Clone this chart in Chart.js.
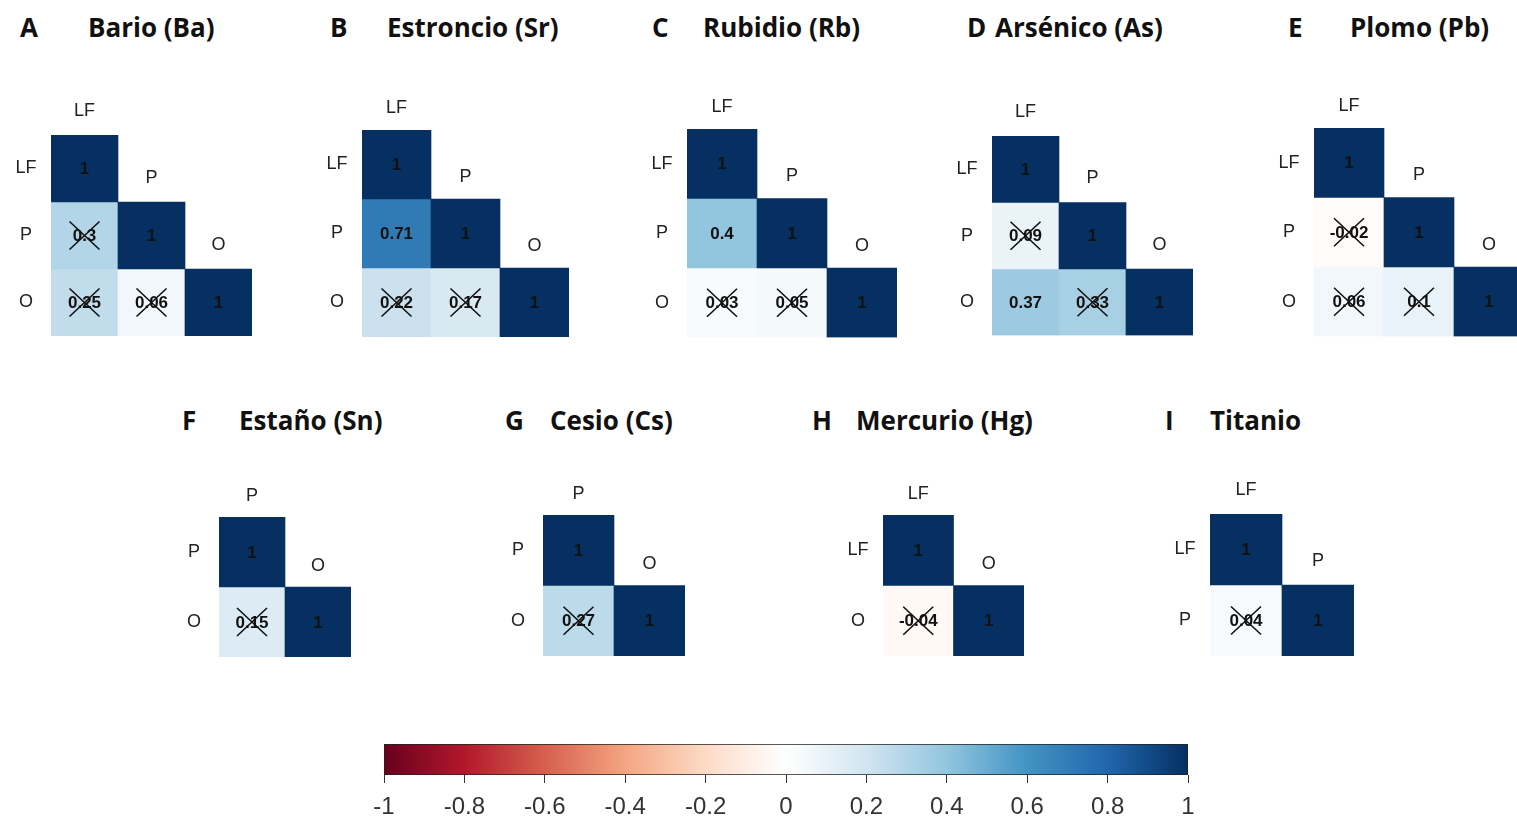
<!DOCTYPE html>
<html>
<head>
<meta charset="utf-8">
<script src="https://cdn.jsdelivr.net/npm/chart.js@4.4.0/dist/chart.umd.min.js"></script>
<style>
  html, body { margin: 0; padding: 0; background: #fff; }
  body { position: relative; width: 1517px; height: 819px; overflow: hidden; font-family: 'Open Sans', 'Liberation Sans', sans-serif; }
  canvas { position: absolute; }
  .title { position: absolute; font-weight: 700; font-size: 26px; color: #111; line-height: 1; white-space: nowrap; transform: translateY(-52%); }
</style>
</head>
<body>
<script>
// ---- data ----
const panelLetters = ['A', 'B', 'C', 'D', 'E', 'F', 'G', 'H', 'I'];
const panelTitles = ['Bario (Ba)', 'Estroncio (Sr)', 'Rubidio (Rb)', 'Arsénico (As)', 'Plomo (Pb)',
                     'Estaño (Sn)', 'Cesio (Cs)', 'Mercurio (Hg)', 'Titanio'];
const panelVars = [
  ['LF', 'P', 'O'], ['LF', 'P', 'O'], ['LF', 'P', 'O'], ['LF', 'P', 'O'], ['LF', 'P', 'O'],
  ['P', 'O'], ['P', 'O'], ['LF', 'O'], ['LF', 'P']
];
// lower triangle, row by row: (row2,col1), (row3,col1), (row3,col2)
const panelCorr = [
  [0.3, 0.25, 0.06], [0.71, 0.22, 0.17], [0.4, 0.03, 0.05], [0.09, 0.37, 0.33], [-0.02, 0.06, 0.1],
  [0.15], [0.27], [-0.04], [0.04]
];
// false = not significant (crossed out)
const panelSignif = [
  [false, false, false], [true, false, false], [true, false, false], [false, true, false], [false, false, false],
  [false], [false], [false], [false]
];
const scaleTicks = [-1, -0.8, -0.6, -0.4, -0.2, 0, 0.2, 0.4, 0.6, 0.8, 1];

// ---- layout (cell grid origin and cell size per panel, title positions) ----
const panelBox = [
  { x: 51, y: 135, w: 67, h: 67, lx: 20, tx: 88, ty: 28, off: 24 },
  { x: 362, y: 130, w: 69, h: 69, lx: 330, tx: 387, ty: 28, off: 22 },
  { x: 687, y: 129, w: 70, h: 69.5, lx: 652, tx: 703, ty: 28, off: 22 },
  { x: 992, y: 136, w: 67, h: 66.5, lx: 967, tx: 995, ty: 28, off: 24 },
  { x: 1314, y: 128, w: 70, h: 69.5, lx: 1288, tx: 1350, ty: 28, off: 22 },
  { x: 219, y: 517, w: 66, h: 70, lx: 182, tx: 239, ty: 421, off: 21 },
  { x: 543, y: 515, w: 71, h: 70.5, lx: 505, tx: 550, ty: 421, off: 21 },
  { x: 883, y: 515, w: 70.5, h: 70.5, lx: 812, tx: 856, ty: 421, off: 21 },
  { x: 1210, y: 514, w: 72, h: 71, lx: 1165, tx: 1210, ty: 421, off: 24 }
];

const rdbu = ['#67001F', '#B2182B', '#D6604D', '#F4A582', '#FDDBC7', '#FFFFFF',
              '#D1E5F0', '#92C5DE', '#4393C3', '#2166AC', '#053061'];

function hex(c) { return [1, 3, 5].map(i => parseInt(c.slice(i, i + 2), 16)); }
function corrColor(v) {
  const t = (v + 1) / 2 * (rdbu.length - 1);
  const i = Math.min(rdbu.length - 2, Math.floor(t));
  const f = t - i;
  const a = hex(rdbu[i]), b = hex(rdbu[i + 1]);
  const m = a.map((x, k) => Math.round(x + (b[k] - x) * f));
  return `rgb(${m[0]},${m[1]},${m[2]})`;
}

const labelFont = "18px 'Liberation Sans', Arial, sans-serif";
const valueFont = "bold 17px 'Liberation Sans', Arial, sans-serif";

// draws numbers, crosses and variable names
const cellPlugin = {
  id: 'cells',
  afterDatasetsDraw(chart) {
    const { ctx, scales: { x, y }, chartArea } = chart;
    const off = chart.options.plugins.cells.labelOffset;
    ctx.save();
    ctx.textAlign = 'center';
    ctx.textBaseline = 'middle';
    chart.data.datasets.forEach((ds, r) => {
      chart.getDatasetMeta(r).data.forEach((bar, c) => {
        const v = ds.corr[c];
        if (v == null) return;
        const cx = bar.x, cy = y.getPixelForValue(r);
        ctx.fillStyle = '#111';
        ctx.font = valueFont;
        ctx.fillText(String(v), cx, cy + 1);
        if (!ds.signif[c]) {
          ctx.strokeStyle = '#111';
          ctx.lineWidth = 1.6;
          ctx.beginPath();
          ctx.moveTo(cx - 15, cy - 14); ctx.lineTo(cx + 15, cy + 14);
          ctx.moveTo(cx + 15, cy - 14); ctx.lineTo(cx - 15, cy + 14);
          ctx.stroke();
        }
      });
    });
    ctx.font = labelFont;
    ctx.fillStyle = '#222';
    chart.data.labels.forEach((lab, i) => {
      ctx.fillText(lab, x.getPixelForValue(i), y.getPixelForValue(i - 0.5) - off);
      ctx.fillText(lab, chartArea.left - 25, y.getPixelForValue(i));
    });
    ctx.restore();
  }
};

function makePanel(k) {
  const vars = panelVars[k], n = vars.length, box = panelBox[k];
  const m = vars.map((_, r) => vars.map((_, c) => (r === c ? 1 : null)));
  const s = vars.map((_, r) => vars.map((_, c) => (r === c)));
  let idx = 0;
  for (let r = 1; r < n; r++) for (let c = 0; c < r; c++) {
    m[r][c] = panelCorr[k][idx]; s[r][c] = panelSignif[k][idx]; idx++;
  }
  const padL = 50, padT = 45, padR = 30, padB = 6;
  const canvas = document.createElement('canvas');
  canvas.width = Math.round(n * box.w + padL + padR);
  canvas.height = Math.round(n * box.h + padT + padB);
  canvas.style.left = (box.x - padL) + 'px';
  canvas.style.top = (box.y - padT) + 'px';
  document.body.appendChild(canvas);

  const datasets = vars.map((_, r) => ({
    data: vars.map((_, c) => (c <= r ? [r - 0.5, r + 0.5] : null)),
    corr: m[r],
    signif: s[r],
    backgroundColor: vars.map((_, c) => (c <= r ? corrColor(m[r][c]) : 'rgba(0,0,0,0)'))
  }));

  new Chart(canvas, {
    type: 'bar',
    data: { labels: vars, datasets },
    options: {
      responsive: false,
      animation: false,
      layout: { padding: { left: padL, top: padT, right: canvas.width - padL - n * box.w, bottom: canvas.height - padT - n * box.h } },
      plugins: { legend: { display: false }, tooltip: { enabled: false }, cells: { labelOffset: box.off } },
      datasets: { bar: { grouped: false, barPercentage: 1, categoryPercentage: 1, borderWidth: 0 } },
      scales: {
        x: { display: false },
        y: { display: false, min: -0.5, max: n - 0.5, reverse: true }
      }
    },
    plugins: [cellPlugin]
  });

  const letter = document.createElement('div');
  letter.className = 'title';
  letter.textContent = panelLetters[k];
  letter.style.left = box.lx + 'px';
  letter.style.top = box.ty + 'px';
  document.body.appendChild(letter);
  const title = document.createElement('div');
  title.className = 'title';
  title.textContent = panelTitles[k];
  title.style.left = box.tx + 'px';
  title.style.top = box.ty + 'px';
  document.body.appendChild(title);
}

panelVars.forEach((_, k) => makePanel(k));

// colour bar
const cb = document.createElement('canvas');
cb.width = 864; cb.height = 101;
cb.style.left = '354px'; cb.style.top = '734px';
document.body.appendChild(cb);
new Chart(cb, {
  type: 'bar',
  data: {
    labels: [''],
    datasets: [{
      data: [[scaleTicks[0], scaleTicks[scaleTicks.length - 1]]],
      borderColor: '#222',
      borderWidth: 1,
      borderSkipped: false,
      backgroundColor: (c) => {
        const ca = c.chart.chartArea;
        if (!ca) return '#fff';
        const g = c.chart.ctx.createLinearGradient(ca.left, 0, ca.right, 0);
        rdbu.forEach((col, i) => g.addColorStop(i / (rdbu.length - 1), col));
        return g;
      }
    }]
  },
  options: {
    indexAxis: 'y',
    responsive: false,
    animation: false,
    layout: { padding: { left: 30, right: 30, top: 10, bottom: 0 } },
    plugins: { legend: { display: false }, tooltip: { enabled: false } },
    datasets: { bar: { barPercentage: 1, categoryPercentage: 1 } },
    scales: {
      y: { display: false },
      x: {
        type: 'linear', position: 'bottom', min: -1, max: 1,
        afterBuildTicks: (sc) => { sc.ticks = scaleTicks.map(v => ({ value: v })); },
        afterFit: (sc) => { sc.height = 60; sc.paddingLeft = 0; sc.paddingRight = 0; },
        border: { display: false },
        grid: { drawOnChartArea: false, drawTicks: true, tickLength: 8, color: '#333' },
        ticks: {
          padding: 10, color: '#333',
          font: { family: "'Liberation Sans', Arial, sans-serif", size: 24 },
          callback: (v) => String(v)
        }
      }
    }
  }
});
</script>
</body>
</html>
